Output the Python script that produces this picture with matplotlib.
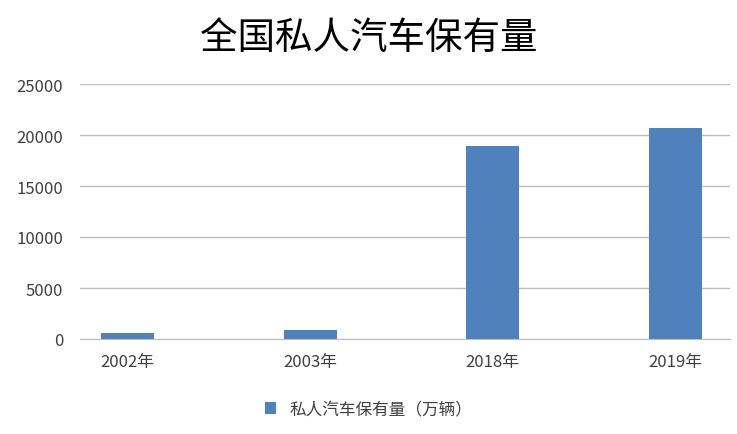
import matplotlib.pyplot as plt
import numpy as np

plt.rcParams['font.family'] = ['Noto Sans CJK SC', 'DejaVu Sans']

years = ['2002年', '2003年', '2018年', '2019年']
cars = [600, 880, 18900, 20680]
yticks = [0, 5000, 10000, 15000, 20000, 25000]

fig = plt.figure(figsize=(7.37, 4.35), dpi=100)
ax = fig.add_axes([80 / 737, 1 - 340 / 435, 650 / 737, 255 / 435])

x = np.arange(len(years))
ax.bar(x, cars, width=0.29, color='#4f81bd', zorder=3, label='私人汽车保有量（万辆）')
ax.set_xlim(-0.26, 3.3)
ax.set_ylim(0, 25000)
ax.set_yticks(yticks)
ax.set_xticks(x)
ax.set_xticklabels(years)
ax.grid(axis='y', color='#bfbfbf', linewidth=1, zorder=0)
for side in ['top', 'right', 'left']:
    ax.spines[side].set_visible(False)
ax.spines['bottom'].set_color('#bfbfbf')
ax.tick_params(length=0, labelsize=12, colors='#404040')
ax.tick_params(axis='x', pad=10)
ax.tick_params(axis='y', pad=12)

fig.text(0.5, 1 - 38 / 435, '全国私人汽车保有量', ha='center', va='center', fontsize=27)
fig.legend(loc='center', bbox_to_anchor=(0.5, 1 - 410 / 435), frameon=False,
           fontsize=12, handlelength=0.7, handleheight=0.7, labelcolor='#404040')

fig.savefig('out.png')
